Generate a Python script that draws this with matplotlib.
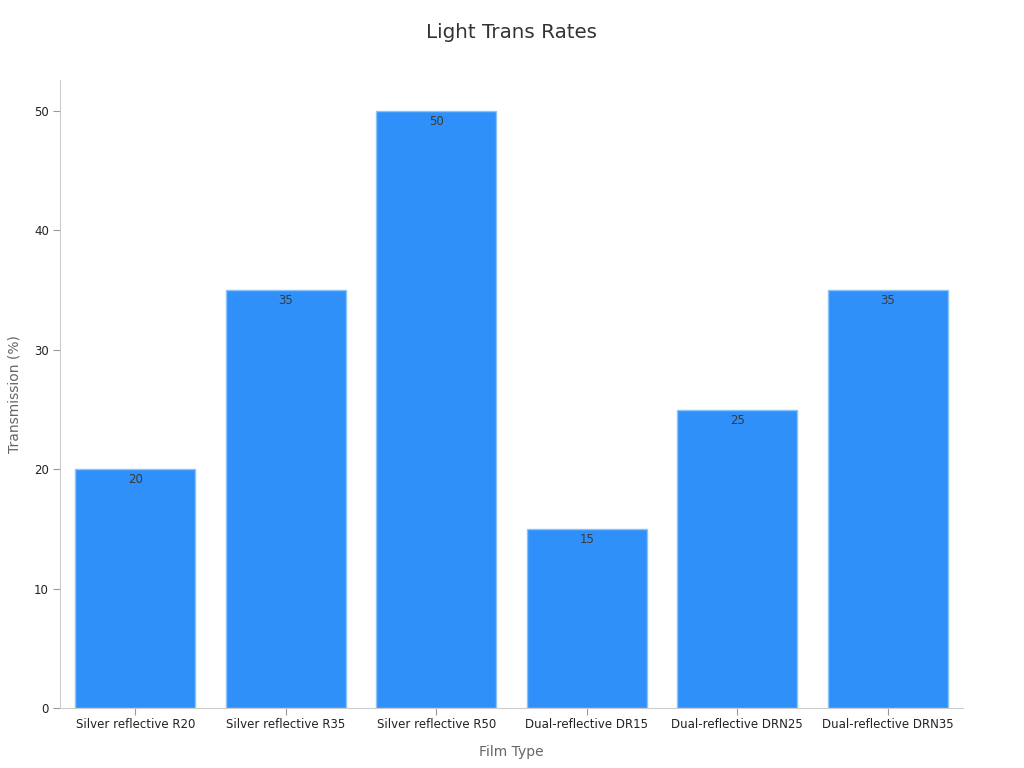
import matplotlib
matplotlib.use("Agg")
import matplotlib.pyplot as plt

categories = ["Silver reflective R20", "Silver reflective R35", "Silver reflective R50",
              "Dual-reflective DR15", "Dual-reflective DRN25", "Dual-reflective DRN35"]
values = [20, 35, 50, 15, 25, 35]

plt.rcParams['font.family'] = ['DejaVu Sans']
fig = plt.figure(figsize=(10.24, 7.68), dpi=100)
ax = fig.add_axes([60/1024, 60/768, 903/1024, 628/768])

x = list(range(len(categories)))
bars = ax.bar(x, values, width=0.8, color="#2E90F8", edgecolor="#8CC4F9", linewidth=1)
for xi, v in zip(x, values):
    ax.text(xi, v - 0.35, f"{v}", ha="center", va="top", fontsize=8.5, color="#3a3a3a")

ax.set_xlim(-0.5, len(categories) - 0.5)
ax.set_ylim(0, 52.6)
ax.set_yticks([0, 10, 20, 30, 40, 50])
ax.set_xticks(x)
ax.set_xticklabels(categories, fontsize=8.5, color="#222222")
ax.tick_params(axis="y", labelsize=8.5, labelcolor="#222222", color="#999999", length=5, pad=3)
ax.tick_params(axis="x", color="#999999", length=5, pad=2)
for s in ["top", "right"]:
    ax.spines[s].set_visible(False)
for s in ["left", "bottom"]:
    ax.spines[s].set_color("#cccccc")
ax.set_xlabel("Film Type", fontsize=10, color="#666666", labelpad=10)
ax.set_ylabel("Transmission (%)", fontsize=10, color="#666666", labelpad=9)
fig.text(0.5, 1 - 33/768, "Light Trans Rates", ha="center", va="center", fontsize=14.3, color="#333333")
fig.savefig("out.png", dpi=100)
